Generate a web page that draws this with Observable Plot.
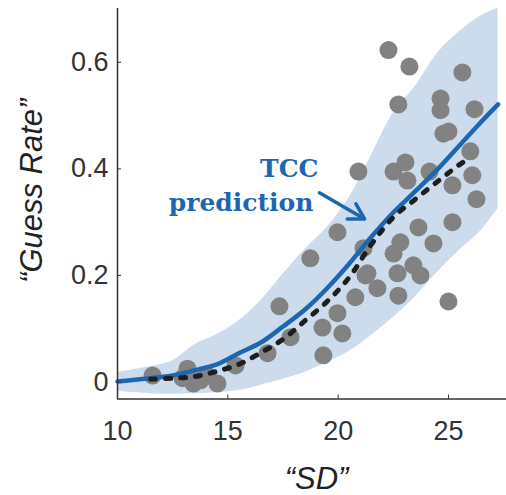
<!DOCTYPE html>
<html><head><meta charset="utf-8">
<script src="https://cdn.jsdelivr.net/npm/d3@7"></script>
<script src="https://cdn.jsdelivr.net/npm/@observablehq/plot@0.6"></script>
<style>body{margin:0;background:#fff;} #chart svg{display:block;}</style>
</head><body><div id="chart"></div>
<script>
// Observed participants: SD vs guess rate
const pointSD    = [11.59,13.17,12.95,13.44,13.76,14.08,14.53,15.35,16.80,17.84,17.34,18.74,19.29,19.97,20.19,19.33,19.97,20.78,21.24,21.15,21.78,21.33,22.69,22.73,22.51,22.82,23.41,23.73,23.64,24.32,25.00,25.18,26.27,23.14,25.18,20.92,22.51,23.05,24.14,26.08,25.99,24.77,25.00,22.73,24.64,24.64,26.18,22.28,23.23,25.63];
const pointGuess = [0.012,0.025,0.007,-0.003,0.003,0.012,-0.003,0.031,0.054,0.084,0.142,0.232,0.102,0.129,0.091,0.050,0.281,0.159,0.200,0.251,0.176,0.204,0.204,0.162,0.241,0.262,0.219,0.200,0.290,0.260,0.151,0.300,0.343,0.378,0.369,0.395,0.395,0.412,0.395,0.388,0.433,0.466,0.470,0.521,0.532,0.510,0.512,0.623,0.592,0.581];

// TCC prediction (line) and its band
const curveSD   = [10, 11.5, 12.5, 13.5, 14.5, 15.5, 16.5, 17.5, 18.5, 19.5, 20.5, 21.5, 22.5, 23.5, 24.5, 25.5, 26.5, 27.25];
const bandHigh  = [0.018,0.029,0.040,0.070,0.089,0.115,0.153,0.202,0.249,0.290,0.346,0.425,0.505,0.555,0.617,0.658,0.688,0.702];
const bandLow   = [-0.018,-0.022,-0.023,-0.022,-0.020,-0.016,-0.006,0.005,0.018,0.037,0.057,0.087,0.121,0.160,0.206,0.247,0.285,0.326];
const tccGuess  = [0.001,0.007,0.012,0.022,0.033,0.054,0.074,0.104,0.136,0.176,0.222,0.272,0.318,0.358,0.399,0.444,0.489,0.521];

// Dotted fit line
const dottedSD    = [11.5, 12.5, 13.5, 14.5, 15.5, 16.5, 17.5, 18.5, 19.5, 20.5, 21.5, 22.5, 23.5, 24.5, 25.5, 26.0];
const dottedGuess = [0.005,0.007,0.010,0.020,0.033,0.055,0.080,0.115,0.151,0.196,0.258,0.309,0.343,0.376,0.408,0.421];

const xTicks = [10, 15, 20, 25];
const yTicks = [0, 0.2, 0.4, 0.6];
const xDomain = [10, 27.63];
const yDomain = [-0.032, 0.701];

// Annotation
const annoLines = ["TCC", "prediction"];
const annoSD    = [19.11, 18.88];
const annoGuess = [0.399, 0.335];
const arrowFrom = {sd: 19.15, g: 0.355};
const arrowTo   = {sd: 21.2, g: 0.306};

const points = pointSD.map((sd, i) => ({sd, g: pointGuess[i]}));
const band = curveSD.map((sd, i) => ({sd, lo: bandLow[i], hi: bandHigh[i], tcc: tccGuess[i]}));
const dotted = dottedSD.map((sd, i) => ({sd, g: dottedGuess[i]}));
const anno = annoLines.map((t, i) => ({t, sd: annoSD[i], g: annoGuess[i]}));

const blue = "#1d66b0";
const axisColor = "#333";

const chart = Plot.plot({
  width: 506,
  height: 495,
  marginLeft: 117,
  marginRight: 0,
  marginTop: 8,
  marginBottom: 96.5,
  style: {background: "#fff", fontFamily: "'Liberation Sans', Arial, sans-serif"},
  x: {domain: xDomain, axis: null},
  y: {domain: yDomain, axis: null},
  marks: [
    Plot.areaY(band, {x: "sd", y1: "lo", y2: "hi", fill: "#cddcec", curve: "catmull-rom"}),
    Plot.dot(points, {x: "sd", y: "g", r: 9, fill: "#828282", stroke: "none"}),
    Plot.line(band, {x: "sd", y: "tcc", stroke: blue, strokeWidth: 4.5, curve: "catmull-rom"}),
    Plot.line(dotted, {x: "sd", y: "g", stroke: "#1e1e1e", strokeWidth: 5, strokeDasharray: "5,10", curve: "catmull-rom"}),
    Plot.ruleY([yDomain[0]], {stroke: axisColor, strokeWidth: 1.5}),
    Plot.ruleX([xDomain[0]], {stroke: axisColor, strokeWidth: 1.5}),
    Plot.axisX({ticks: xTicks, label: null, tickSize: -4, tickPadding: 26, fontSize: 27, color: axisColor, tickFormat: d => String(d)}),
    Plot.axisY({ticks: yTicks, label: null, tickSize: -4, tickPadding: 13, fontSize: 27, color: axisColor, tickFormat: d => String(d)}),
    Plot.text(["“SD”"], {frameAnchor: "bottom", textAnchor: "middle", lineAnchor: "middle", dy: 80, dx: 4.5, fontSize: 31, fontStyle: "italic", fill: "#222"}),
    Plot.text(["“Guess Rate”"], {frameAnchor: "left", textAnchor: "middle", lineAnchor: "middle", rotate: -90, dx: -85, dy: -13, fontSize: 31, fontStyle: "italic", fill: "#222"}),
    Plot.text(anno, {x: "sd", y: "g", text: "t", textAnchor: "end", fontFamily: "'DejaVu Serif', serif", fontWeight: "bold", fontSize: 25, fill: blue}),
    Plot.arrow([{}], {x1: () => arrowFrom.sd, y1: () => arrowFrom.g, x2: () => arrowTo.sd, y2: () => arrowTo.g, stroke: blue, strokeWidth: 3.5, headLength: 12})
  ]
});
document.getElementById("chart").appendChild(chart);
</script>
</body></html>
